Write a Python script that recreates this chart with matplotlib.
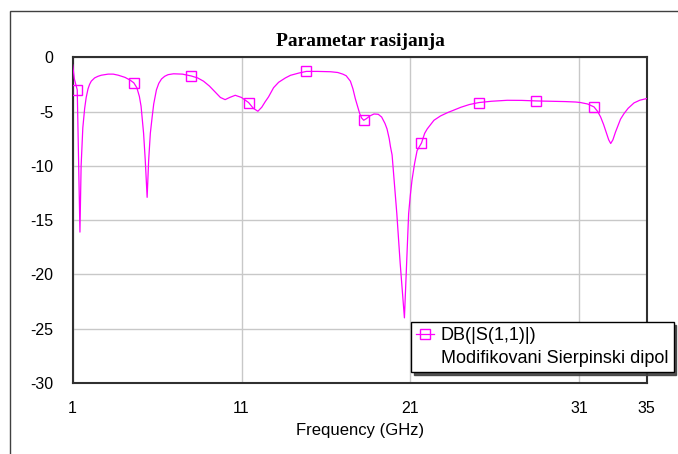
import matplotlib.pyplot as plt
from matplotlib.lines import Line2D
from matplotlib.patches import Rectangle

# S11 (GHz, dB)
freq = [1.0, 1.1, 1.27, 1.43, 1.5, 1.6, 1.71, 1.8, 1.91, 2.0, 2.1, 2.3, 2.5,
        2.7, 3.1, 3.4, 3.7, 4.1, 4.4, 4.62, 4.8, 4.95, 5.05, 5.2, 5.3, 5.41,
        5.5, 5.6, 5.7, 5.8, 5.96, 6.1, 6.26, 6.45, 6.65, 6.97, 7.5,
        8.02, 8.4, 8.75, 9.1, 9.44, 9.75, 10.03, 10.3, 10.63, 11.0, 11.42,
        11.7, 11.97, 12.2, 12.4, 12.6, 12.9, 13.2, 13.6, 13.9, 14.4, 14.84,
        15.5, 16.27, 16.7, 17.0, 17.2, 17.45, 17.6, 17.74, 17.87, 18.0, 18.12,
        18.24, 18.4, 18.6, 18.85, 19.1, 19.3, 19.5, 19.62, 19.75, 19.82, 19.92,
        20.05, 20.2, 20.4, 20.55, 20.65, 20.78, 20.9, 21.0, 21.1, 21.25, 21.4,
        21.66, 21.85, 22.0, 22.2, 22.4, 22.79, 23.2, 23.6, 24.0, 24.5, 25.06,
        25.8, 26.74, 27.6, 28.46, 29.3, 30.2, 30.8, 31.09, 31.5, 31.88, 32.1,
        32.27, 32.45, 32.6, 32.75, 32.87, 33.0, 33.15, 33.27, 33.45, 33.66,
        33.9, 34.25, 34.6, 35.0]
s11_db = [-0.7, -2.0, -3.0, -16.1, -10.0, -6.5, -4.7, -3.7, -2.9, -2.5, -2.2,
          -1.9, -1.75, -1.65, -1.55, -1.55, -1.65, -1.85, -2.1, -2.35, -2.8,
          -3.6, -4.5, -7.0, -9.5, -12.9, -9.5, -7.0, -5.6, -4.3, -3.0, -2.4,
          -2.0, -1.75, -1.6, -1.52, -1.55,
          -1.72, -1.9, -2.2, -2.65, -3.2, -3.7, -3.9, -3.7, -3.5, -3.7, -4.17,
          -4.7, -4.97, -4.6, -4.1, -3.65, -2.8, -2.3, -1.9, -1.66, -1.45, -1.3,
          -1.3, -1.33, -1.4, -1.55, -1.7, -2.2, -2.9, -3.8, -4.5, -5.18, -5.6,
          -5.8, -5.65, -5.4, -5.22, -5.25, -5.5, -6.1, -6.6, -7.5, -8.2, -9.0,
          -11.5, -14.4, -19.0, -22.0, -24.0, -19.0, -14.4, -12.7, -11.3, -9.8,
          -8.6, -7.9, -7.0, -6.6, -6.2, -5.8, -5.4, -5.1, -4.85, -4.6, -4.35,
          -4.17, -4.05, -3.96, -3.97, -4.02, -4.05, -4.08, -4.12, -4.17, -4.3,
          -4.57, -5.0, -5.49, -6.2, -6.9, -7.6, -7.94, -7.6, -6.9, -6.41, -5.7,
          -5.18, -4.7, -4.2, -3.95, -3.8]
marker_freq = [1.27, 4.62, 8.02, 11.42, 14.84, 18.24, 21.66, 25.06, 28.46, 31.88]

x_ticks = [1, 11, 21, 31, 35]
y_ticks = [0, -5, -10, -15, -20, -25, -30]

mark_idx = [freq.index(f) for f in marker_freq]

fig = plt.figure(figsize=(6.78, 4.54), dpi=100)
ax = fig.add_axes([0.1072, 0.1564, 0.8466, 0.7174])

ax.plot(freq, s11_db, color='#FF00FF', lw=0.9, marker='s', ms=7.2,
        mfc='none', mec='#FF00FF', mew=1.0, markevery=mark_idx, zorder=3)

ax.set_xlim(1, 35)
ax.set_ylim(-30, 0)
ax.set_xticks(x_ticks)
ax.set_yticks(y_ticks)
ax.set_xticklabels([str(t) for t in x_ticks], fontsize=11.5, family='Liberation Sans')
ax.set_yticklabels([str(t) for t in y_ticks], fontsize=11.5, family='Liberation Sans')
ax.tick_params(axis='both', length=0)
ax.tick_params(axis='y', pad=14)
ax.tick_params(axis='x', pad=13)
ax.grid(True, color='#c8c8c8', lw=1.0)
for s in ax.spines.values():
    s.set_color('#303030')
    s.set_linewidth(1.5)

ax.set_xlabel('Frequency (GHz)', fontsize=12, family='Liberation Sans')
ax.xaxis.set_label_coords(0.5, -0.147)
ax.xaxis.label.set_va('center')

fig.text(360 / 678, 1 - 42 / 454, 'Parametar rasijanja', ha='center', va='center',
         fontsize=14, fontweight='bold', family='Liberation Serif')

# outer frame (only left and top visible in the reference)
fig.patches.append(Rectangle((9.5 / 678, -0.2), 1.2, 1.2 - 10.7 / 454,
                             transform=fig.transFigure, fill=False,
                             ec='#404040', lw=1.0))

h1 = Line2D([], [], color='#FF00FF', lw=0.9, marker='s', ms=7.2, mfc='none',
            mec='#FF00FF', mew=1.0)
h2 = Line2D([], [], linestyle='none', marker='none')
leg = ax.legend([h1, h2], ['DB(|S(1,1)|)', 'Modifikovani Sierpinski dipol'],
                loc='upper left', bbox_to_anchor=(411 / 678, 1 - 322 / 454),
                bbox_transform=fig.transFigure, borderaxespad=0,
                prop={'family': 'Liberation Sans', 'size': 13},
                handlelength=0.95, handletextpad=0.4, labelspacing=0.3,
                borderpad=0.3, fancybox=False, framealpha=1,
                shadow={'color': '0.25', 'alpha': 0.9})
leg.get_frame().set_edgecolor('black')
leg.get_frame().set_linewidth(1.0)
leg.set_zorder(5)

fig.savefig('out.png', dpi=100)
